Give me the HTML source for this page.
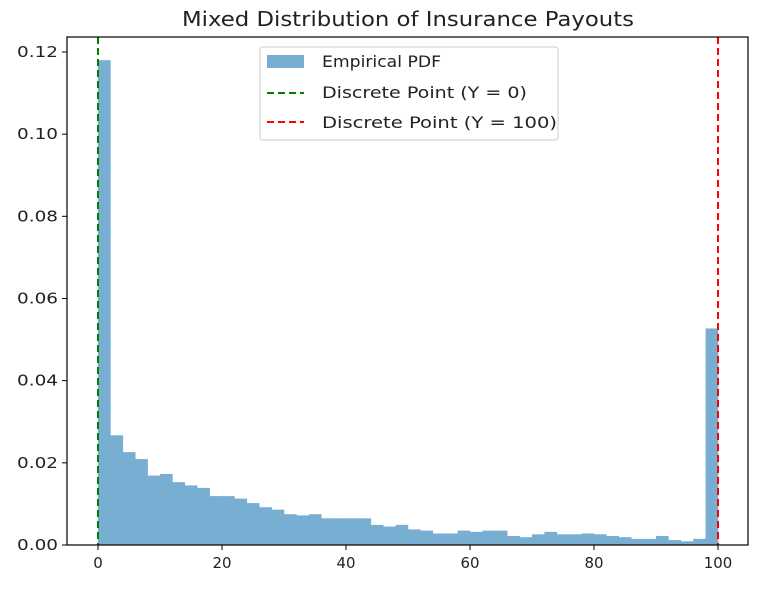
<!DOCTYPE html>
<html><head><meta charset="utf-8"><style>
body{margin:0;background:#fff;}
svg text{font-family:"DejaVu Sans","Liberation Sans",sans-serif;fill:#222;}
</style></head><body>
<svg id="chart" width="759" height="587" xmlns="http://www.w3.org/2000/svg">
<text x="408" y="26" font-size="20" text-anchor="middle" textLength="452" lengthAdjust="spacingAndGlyphs">Mixed Distribution of Insurance Payouts</text>
<g id="bars"></g>
<g id="axes"></g>
</svg>
<script>
const binEdgesStart = [0,2,4,6,8,10,12,14,16,18,20,22,24,26,28,30,32,34,36,38,40,42,44,46,48,50,52,54,56,58,60,62,64,66,68,70,72,74,76,78,80,82,84,86,88,90,92,94,96,98];
const densities = [0.118,0.0267,0.0226,0.0209,0.0169,0.0173,0.0153,0.0145,0.0139,0.0119,0.0119,0.0113,0.0102,0.0092,0.0086,0.0075,0.0072,0.0075,0.0065,0.0065,0.0065,0.0065,0.0049,0.0045,0.0049,0.0038,0.0035,0.0028,0.0028,0.0035,0.0032,0.0035,0.0035,0.0022,0.0019,0.0026,0.0032,0.0026,0.0026,0.0028,0.0026,0.0022,0.0019,0.0015,0.0015,0.0022,0.0012,0.0009,0.0015,0.0527];
const xTicks = [0,20,40,60,80,100];
const yTicks = [0,0.02,0.04,0.06,0.08,0.10,0.12];
const yTickLabels = ["0.00","0.02","0.04","0.06","0.08","0.10","0.12"];
const discretePoints = [0,100];
const binWidth = 2;

const L=67,R=748,T=37,B=545;
const xs=v=>98+v*6.2;
const ys=v=>B-v*(82.17/0.02);
const NS="http://www.w3.org/2000/svg";
function mk(tag,attrs,parent){const e=document.createElementNS(NS,tag);for(const k in attrs)e.setAttribute(k,attrs[k]);parent.appendChild(e);return e;}
const svg=document.getElementById('chart');
const bars=document.getElementById('bars');
const axes=document.getElementById('axes');
densities.forEach((d,i)=>{
  const x0=xs(binEdgesStart[i]),x1=xs(binEdgesStart[i]+binWidth);
  const r=mk('rect',{x:x0,y:ys(d),width:x1-x0+0.3,height:B-ys(d),fill:'#77aed2'},bars);
  
  
});
const colors=['#008000','#ff0000'];
discretePoints.forEach((p,i)=>{
  const l=mk('line',{x1:xs(p),x2:xs(p),y1:T,y2:B,stroke:colors[i],'stroke-width':2,'stroke-dasharray':'7,4'},axes);
  
  
});
const frame=mk('rect',{x:L,y:T,width:R-L,height:B-T,fill:'none',stroke:'#000','stroke-width':1.2},axes);


xTicks.forEach(t=>{
  mk('line',{x1:xs(t),x2:xs(t),y1:B,y2:B+5,stroke:'#000'},axes);
  const s=String(t);
  const tx=mk('text',{x:xs(t),y:B+23,'font-size':15,'text-anchor':'middle',textLength:s.length*9.5,lengthAdjust:'spacingAndGlyphs'},axes);
  tx.textContent=s;
  
  
});
yTicks.forEach((t,i)=>{
  mk('line',{x1:L-5,x2:L,y1:ys(t),y2:ys(t),stroke:'#000'},axes);
  const tx=mk('text',{x:L-50,y:ys(t)+5,'font-size':15,textLength:41,lengthAdjust:'spacingAndGlyphs'},axes);
  tx.textContent=yTickLabels[i];
  
  
});
// legend
const lg=mk('g',{},svg);


mk('rect',{x:260,y:47,width:298,height:93,rx:3,fill:'#fff','fill-opacity':0.85,stroke:'#ccc'},lg);
mk('rect',{x:267,y:55,width:37,height:13,fill:'#77aed2'},lg);
mk('line',{x1:267,x2:304,y1:93,y2:93,stroke:'#008000','stroke-width':2,'stroke-dasharray':'7,4'},lg);
mk('line',{x1:267,x2:304,y1:122,y2:122,stroke:'#ff0000','stroke-width':2,'stroke-dasharray':'7,4'},lg);
[['Empirical PDF',67,119],['Discrete Point (Y = 0)',98,205],['Discrete Point (Y = 100)',128,235]].forEach(([s,y,w])=>{
  const t=mk('text',{x:322,y:y,'font-size':16,textLength:w,lengthAdjust:'spacingAndGlyphs'},lg);
  t.textContent=s;
  
  
});
</script>
</body></html>
